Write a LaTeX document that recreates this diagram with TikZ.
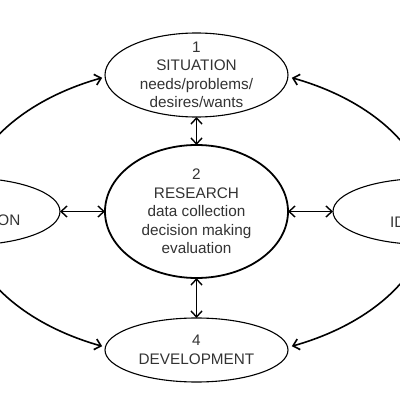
\documentclass[tikz,border=0pt]{standalone}
\usepackage{fontspec}
\setmainfont{Liberation Sans}
\usetikzlibrary{shapes.geometric,arrows.meta}
\definecolor{txt}{HTML}{333333}
\begin{document}
\begin{tikzpicture}[x=1pt,y=1pt,
  oval/.style={draw=black,ellipse,inner sep=0pt,outer sep=0pt,line width=1.1pt},
  lbl/.style={text=txt,align=center,font=\fontsize{15.3}{18.5}\selectfont,inner sep=0pt},
  dbl/.style={line width=1.4pt,{Straight Barb[length=6pt,width=11pt]}-{Straight Barb[length=6pt,width=11pt]}},
  loop/.style={line width=1.6pt,-{Straight Barb[length=6pt,width=11pt]}}]
\useasboundingbox (0,0) rectangle (400,400);
\clip (0,0) rectangle (400,400);
\fill[white] (0,0) rectangle (400,400);
% ovals
\node[oval,minimum width=183pt,minimum height=84pt] (sit) at (196.5,325) {};
\node[oval,minimum width=183pt,minimum height=133pt,line width=1.8pt] (res) at (196.5,188.5) {};
\node[oval,minimum width=183pt,minimum height=64pt] (dev) at (196.5,50) {};
\node[oval,minimum width=184pt,minimum height=67pt] (lft) at (-32,188.5) {};
\node[oval,minimum width=184pt,minimum height=66pt] (rgt) at (425,188.5) {};
% texts
\node[lbl] (sitt) at (sit.center) {1\\SITUATION\\needs/problems/\\desires/wants};
\node[lbl] (rest) at (res.center) {2\\RESEARCH\\data collection\\decision making\\evaluation};
\node[lbl] (devt) at (dev.center) {4\\DEVELOPMENT};
\node[lbl,anchor=base east] (lftt) at (20.5,174.5) {ON};
\node[lbl,anchor=base west] (rgtt) at (390,172.5) {ID};
% straight double arrows
\draw[dbl] (sit) -- (res);
\draw[dbl] (res) -- (dev);
\draw[dbl] (lft) -- (res);
\draw[dbl] (res) -- (rgt);
% big loop arcs
\coordinate (tlS) at (-28.1,226.0);
\coordinate (trS) at (422.1,226.0);
\coordinate (blS) at (-28.1,150.0);
\coordinate (brS) at (422.1,150.0);
\draw[loop] (tlS) arc[start angle=165,end angle=114,x radius=233pt,y radius=147pt];
\draw[loop] (trS) arc[start angle=15,end angle=66,x radius=233pt,y radius=147pt];
\draw[loop] (blS) arc[start angle=195,end angle=246,x radius=233pt,y radius=147pt];
\draw[loop] (brS) arc[start angle=-15,end angle=-66,x radius=233pt,y radius=147pt];
\end{tikzpicture}
\end{document}
